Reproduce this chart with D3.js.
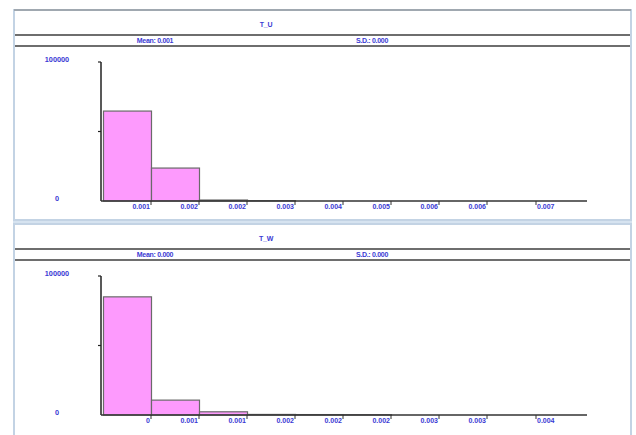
<!DOCTYPE html>
<html>
<head>
<meta charset="utf-8">
<script src="https://cdn.jsdelivr.net/npm/d3@7"></script>
<style>
  html, body { margin: 0; padding: 0; background: #ffffff; }
  svg { display: block; }
  text { font-family: "Liberation Sans", Arial, sans-serif; font-weight: bold; }
</style>
</head>
<body>
<svg id="chart" width="636" height="435"></svg>
<script>
// Histogram bin counts (one value per bin) and bin-edge tick labels
const tuCounts = [64700, 23700, 700, 250, 0, 0, 0, 0, 0, 0];
const tuTicks  = ["0.001", "0.002", "0.002", "0.003", "0.004", "0.005", "0.006", "0.006", "0.007"];
const tuStats  = ["Mean: 0.001", "S.D.: 0.000"];

const twCounts = [85000, 10700, 2300, 400, 300, 200, 0, 0, 0, 0];
const twTicks  = ["0", "0.001", "0.001", "0.002", "0.002", "0.002", "0.003", "0.003", "0.004"];
const twStats  = ["Mean: 0.000", "S.D.: 0.000"];

const yTickLabels = ["0", "100000"];
const yMax = 100000;

const panels = [
  { title: "T_U", counts: tuCounts, ticks: tuTicks, stats: tuStats, top: 10, bottom: 220 },
  { title: "T_W", counts: twCounts, ticks: twTicks, stats: twStats, top: 224, bottom: 440 }
];

const svg = d3.select("#chart");
const textColor = "#3a3ad4";
const left = 14, right = 631;

// light band between the two panels
svg.append("rect").attr("x", left - 1).attr("y", 218).attr("width", right - left + 2).attr("height", 7)
  .attr("fill", "#d6e3f0");

panels.forEach(p => {
  const g = svg.append("g").attr("transform", `translate(0,${p.top})`);
  const h = p.bottom - p.top;

  // panel frame
  g.append("rect").attr("x", left).attr("y", 0).attr("width", right - left).attr("height", h)
    .attr("fill", "#ffffff").attr("stroke", "#c3d3e4").attr("stroke-width", 2);
  g.append("line").attr("x1", left).attr("x2", right).attr("y1", 0).attr("y2", 0)
    .attr("stroke", p.top < 20 ? "#a0a8b0" : "#c3d3e4").attr("stroke-width", 2);

  // header separators
  [25, 36].forEach(yy => {
    g.append("line").attr("x1", left + 1).attr("x2", right - 1).attr("y1", yy).attr("y2", yy)
      .attr("stroke", "#6e6e6e").attr("stroke-width", 2);
  });

  // title and statistics
  g.append("text").attr("x", 266).attr("y", 17).attr("text-anchor", "middle")
    .attr("font-size", 7).attr("letter-spacing", -0.2).attr("fill", textColor).text(p.title);
  g.append("text").attr("x", 155).attr("y", 33).attr("text-anchor", "middle")
    .attr("font-size", 7).attr("letter-spacing", -0.3).attr("fill", textColor).text(p.stats[0]);
  g.append("text").attr("x", 372).attr("y", 33).attr("text-anchor", "middle")
    .attr("font-size", 7).attr("letter-spacing", -0.3).attr("fill", textColor).text(p.stats[1]);

  // plot scales
  const baseY = 191, topY = 52;
  const x = d3.scaleLinear().domain([0, 10]).range([103, 583]);
  const y = d3.scaleLinear().domain([0, yMax]).range([baseY, topY]);

  // bars
  g.selectAll("rect.bar").data(p.counts.filter(c => c > 0)).enter().append("rect")
    .attr("class", "bar")
    .attr("x", (d, i) => x(i) + 0.5)
    .attr("y", d => y(d))
    .attr("width", x(1) - x(0))
    .attr("height", d => baseY - y(d))
    .attr("fill", "#fd9afd")
    .attr("stroke", "#6a6a6a")
    .attr("stroke-width", 1.2);

  // y axis
  g.append("line").attr("x1", 101).attr("x2", 101).attr("y1", topY).attr("y2", baseY)
    .attr("stroke", "#222").attr("stroke-width", 1.5);
  [yMax, yMax / 2].forEach(v => {
    g.append("line").attr("x1", 98).attr("x2", 101).attr("y1", y(v)).attr("y2", y(v))
      .attr("stroke", "#222").attr("stroke-width", 1.2);
  });
  g.append("text").attr("x", 57).attr("y", y(yMax)).attr("text-anchor", "middle")
    .attr("font-size", 7.3).attr("fill", textColor).text(yTickLabels[1]);
  g.append("text").attr("x", 57).attr("y", y(0)).attr("text-anchor", "middle")
    .attr("font-size", 7.3).attr("fill", textColor).text(yTickLabels[0]);

  // x axis
  g.append("line").attr("x1", 101).attr("x2", 587).attr("y1", baseY).attr("y2", baseY)
    .attr("stroke", "#333").attr("stroke-width", 1.5);
  p.ticks.forEach((t, i) => {
    const last = i === p.ticks.length - 1;
    const tx = last ? x(i + 1) + 1 : x(i + 1);
    g.append("line").attr("x1", tx).attr("x2", tx).attr("y1", baseY).attr("y2", baseY + 4)
      .attr("stroke", "#333").attr("stroke-width", 1);
    g.append("text").attr("x", last ? tx + 1 : tx - 1).attr("y", baseY + 7.5)
      .attr("text-anchor", last ? "start" : "end")
      .attr("font-size", 7).attr("fill", textColor).text(t);
  });
});
</script>
</body>
</html>
